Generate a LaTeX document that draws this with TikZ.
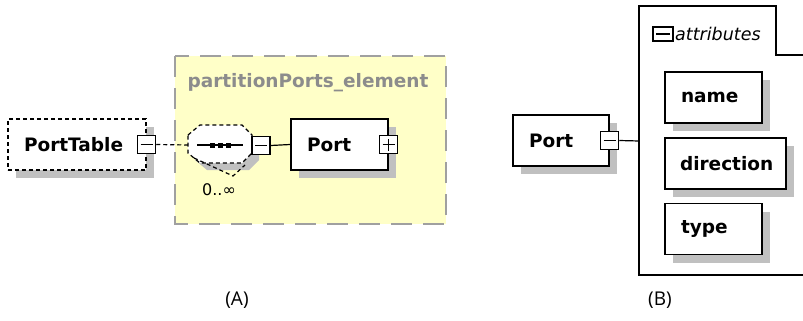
\documentclass[tikz,border=0pt]{standalone}
\usepackage{fontspec}
\setmainfont{DejaVu Sans}
\newfontfamily\capfont{Open Sans}
\usetikzlibrary{shadows}

\definecolor{groupfill}{HTML}{FFFFC8}
\definecolor{groupline}{HTML}{A0A0A0}
\definecolor{grouptext}{HTML}{8C8C8C}
\definecolor{shadowgray}{HTML}{C0C0C0}

\tikzset{
  elbox/.style={draw, fill=white, line width=1.3pt, minimum height=51pt,
    inner xsep=16pt, inner ysep=0pt, align=left,
    font=\fontsize{18.5}{21}\selectfont\bfseries,
    drop shadow={shadow xshift=8pt, shadow yshift=-8pt, fill=shadowgray, opacity=1}},
  optbox/.style={elbox, dash pattern=on 4pt off 3pt},
  toggle/.style={draw, fill=white, line width=1.2pt, minimum size=18pt, inner sep=0pt},
  minus/.style={toggle, path picture={
    \draw[line width=1.2pt] ([xshift=3pt]path picture bounding box.west) -- ([xshift=-3pt]path picture bounding box.east);}},
  plus/.style={toggle, path picture={
    \draw[line width=1.2pt] ([xshift=3pt]path picture bounding box.west) -- ([xshift=-3pt]path picture bounding box.east)
      ([yshift=3pt]path picture bounding box.south) -- ([yshift=-3pt]path picture bounding box.north);}},
  link/.style={line width=1.2pt},
  caption/.style={font=\capfont\fontsize{19}{22}\selectfont}
}

\begin{document}
\begin{tikzpicture}[x=1pt, y=-1pt]
\useasboundingbox (0,0) rectangle (803,321);

% (A) group
\filldraw[fill=groupfill, draw=groupline, line width=1.5pt, dash pattern=on 21pt off 11pt] (175,56) rectangle (446,224);
\node[anchor=west, text=grouptext, font=\fontsize{18.5}{21}\selectfont\bfseries] (grouplabel) at (184,83) {partitionPorts\_element};

\node[optbox, text width=106pt] (porttable) at (77,144.5) {PortTable};
\node[minus] (ptminus) at (porttable.east) {};

% sequence compositor
\fill[shadowgray] (195,142) -- (207,132) -- (249,132) -- (259,142) -- (259,160) -- (249,170) -- (207,170) -- (195,160) -- cycle;
\filldraw[fill=white, line width=1.2pt, dash pattern=on 4pt off 3pt] (188,135) -- (200,125) -- (242,125) -- (252,135) -- (252,153) -- (242,163) -- (200,163) -- (188,153) -- cycle;
\draw[line width=1.2pt, dash pattern=on 4pt off 3pt] (194,158) -- (233,176) -- (245,165);
\draw[line width=1.2pt] (197,145) -- (243,145);
\foreach \xd in {212,220,228}
  \fill (\xd-2.5,142.5) rectangle (\xd+2.5,147.5);
\coordinate (seqin) at (188,145);
\node[minus] (seqminus) at (261,145.5) {};
\node[font=\fontsize{16}{18}\selectfont] (seqcount) at (219,190) {0..∞};

\node[elbox, text width=65pt] (porta) at (339.5,144.5) {Port};
\node[plus] (paplus) at (porta.east) {};

\draw[link, dash pattern=on 4pt off 3pt] (ptminus.east) -- (seqin);
\draw[link] (seqminus.east) -- (porta.west);

\node[caption] (capa) at (237,300) {(A)};

% (B) attributes
\draw[line width=1.3pt] (803,55) -- (776,55) -- (776,6) -- (639,6) -- (639,275) -- (803,275);
\node[minus, minimum width=20pt, minimum height=14pt] (attrminus) at (663,34) {};
\node[anchor=west, inner xsep=2pt, font=\fontsize{17.5}{20}\selectfont\itshape] (attrlabel) at (673,34) {attributes};

\node[elbox, text width=64pt] (portb) at (561,140.5) {Port};
\node[minus] (pbminus) at (portb.east) {};
\coordinate (attrin) at (639,141);
\draw[link] (pbminus.east) -- (attrin);

\node[elbox, text width=65pt] (name) at (713.5,97.5) {name};
\node[elbox, text width=91pt, inner xsep=15pt] (direction) at (725.5,163.5) {direction};
\node[elbox, text width=65pt] (type) at (713.5,229) {type};

\node[caption] (capb) at (660,300) {(B)};

\end{tikzpicture}
\end{document}
